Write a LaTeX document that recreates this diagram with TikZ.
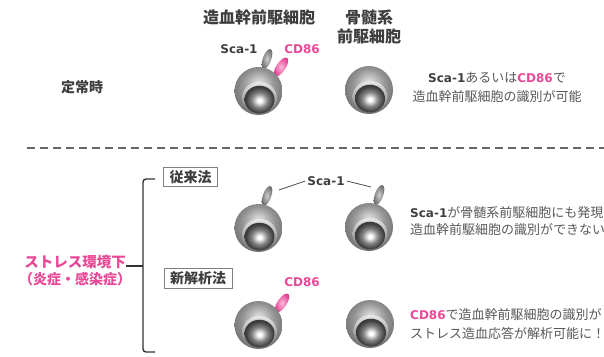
\documentclass[tikz,border=0pt]{standalone}
\usepackage{fontspec}
\setmainfont{Noto Sans CJK JP}
\newfontfamily\latinfont{DejaVu Sans}
\newcommand{\lat}[1]{{\latinfont\bfseries\fontsize{12}{14}\selectfont #1}}
\definecolor{pinkc}{RGB}{233,72,150}
\definecolor{darktxt}{RGB}{62,62,62}
\definecolor{bodytxt}{RGB}{88,88,88}
\definecolor{rimtop}{RGB}{232,232,232}
\definecolor{rimbot}{RGB}{105,105,105}
\definecolor{scain}{RGB}{205,205,205}
\definecolor{scaout}{RGB}{110,110,110}
\definecolor{cdin}{RGB}{250,185,218}
\definecolor{cdout}{RGB}{228,60,145}
% sphere body: highlight above the centre (path box = central 50bp square)
\pgfdeclareradialshading{outershade}{\pgfpoint{0bp}{9bp}}{%
  color(0bp)=(black!15); color(4bp)=(black!18); color(17bp)=(black!42);
  color(28bp)=(black!55); color(40bp)=(black!60)}
% nucleus: bright spot in the middle, dark rim
\pgfdeclareradialshading{nucshade}{\pgfpoint{0bp}{-2bp}}{%
  color(0bp)=(white); color(3bp)=(white); color(13bp)=(black!48);
  color(23bp)=(black!76); color(32bp)=(black!80)}
\tikzset{
  cell/.pic={
    \shade[shading=outershade] (0,0) circle [radius=24];
    \shade[top color=rimtop, bottom color=rimbot] (1,7) ellipse [x radius=17.5, y radius=16];
    \shade[shading=nucshade] (1,8.5) ellipse [x radius=15, y radius=13.8];
  },
  scaknob/.pic={\shade[inner color=scain, outer color=scaout, rotate=-20] (0,0) ellipse [x radius=4.2, y radius=10.5];},
  cdknob/.pic={\shade[inner color=cdin, outer color=cdout, rotate=-34] (0,0) ellipse [x radius=4.6, y radius=11];},
  title/.style={font=\bfseries\fontsize{16}{19}\selectfont, text=darktxt, inner sep=0pt},
  heading/.style={font=\bfseries\fontsize{14}{16}\selectfont, text=darktxt, inner sep=0pt},
  markerlbl/.style={font=\latinfont\bfseries\fontsize{12}{14}\selectfont, inner sep=2pt},
  body/.style={font=\fontsize{13}{15}\selectfont, text=bodytxt, inner sep=0pt},
  methodbox/.style={draw=black!50, line width=0.9pt, fill=white, font=\bfseries\fontsize{14}{16}\selectfont,
    text=darktxt, inner xsep=6pt, inner ysep=3pt},
  bracket/.style={draw=black!80, line width=1.4pt},
  leader/.style={draw=black!70, line width=0.8pt},
}
\begin{document}
\begin{tikzpicture}[x=1pt, y=-1pt]
\useasboundingbox (0,0) rectangle (604,356);
\clip (0,0) rectangle (604,356);

% column headings
\node[title] (hsc) at (259,17) {造血幹前駆細胞};
\node[title] (mye1) at (369,17) {骨髄系};
\node[title] (mye2) at (369,36) {前駆細胞};

% steady state row
\node[heading] (steady) at (82,87) {定常時};
\pic at (267,59) {scaknob};
\pic at (281,67) {cdknob};
\pic at (258.5,91) {cell};
\pic at (369,90) {cell};
\node[markerlbl, text=darktxt] (scaA) at (239,49) {Sca-1};
\node[markerlbl, text=pinkc] (cdA) at (302,49) {CD86};
\node[body] (tA1) at (497,78) {\lat{\textcolor{darktxt}{Sca-1}}あるいは\lat{\textcolor{pinkc}{CD86}}で};
\node[body] (tA2) at (497,97) {造血幹前駆細胞の識別が可能};

% separator
\draw[black!60, line width=1.5pt, dash pattern=on 8pt off 5pt] (27,148) -- (604,148);

% stress condition label and bracket
\node[font=\bfseries\fontsize{14.5}{17}\selectfont, text=pinkc, inner sep=0pt, anchor=east] (stress) at (126,262) {ストレス環境下};
\node[font=\bfseries\fontsize{14}{16}\selectfont, text=pinkc, inner sep=0pt] (cause) at (75,279) {（炎症・感染症）};
\coordinate (brtop) at (155,179);
\coordinate (brbot) at (155,352);
\coordinate (brmid) at (143,266);
\draw[bracket, rounded corners=3pt] (brtop) -- (143,179) -- (143,352) -- (brbot);
\draw[bracket] (brmid) -- (stress.east |- brmid);

% conventional method
\node[methodbox] (conv) at (190.5,177) {従来法};
\pic at (267,196) {scaknob};
\pic at (258.5,228) {cell};
\pic at (379,195) {scaknob};
\pic at (369,227) {cell};
\node[markerlbl, text=darktxt] (scaB) at (326,181) {Sca-1};
\coordinate (tipC) at (279,190);
\coordinate (tipD) at (371,187);
\draw[leader] (scaB.west) -- (tipC);
\draw[leader] (scaB.east) -- (tipD);
\node[body, anchor=west] (tB1) at (410,213) {\lat{\textcolor{darktxt}{Sca-1}}が骨髄系前駆細胞にも発現};
\node[body, anchor=west] (tB2) at (410,230) {造血幹前駆細胞の識別ができない};

% new analysis method
\node[methodbox] (newm) at (198,278.5) {新解析法};
\pic at (282,303) {cdknob};
\pic at (258.5,325) {cell};
\pic at (370,324) {cell};
\node[markerlbl, text=pinkc] (cdE) at (302,282) {CD86};
\node[body, anchor=west] (tC1) at (410,315) {\lat{\textcolor{pinkc}{CD86}}で造血幹前駆細胞の識別が};
\node[body, anchor=west] (tC2) at (410,333) {ストレス造血応答が解析可能に！};
\end{tikzpicture}
\end{document}
